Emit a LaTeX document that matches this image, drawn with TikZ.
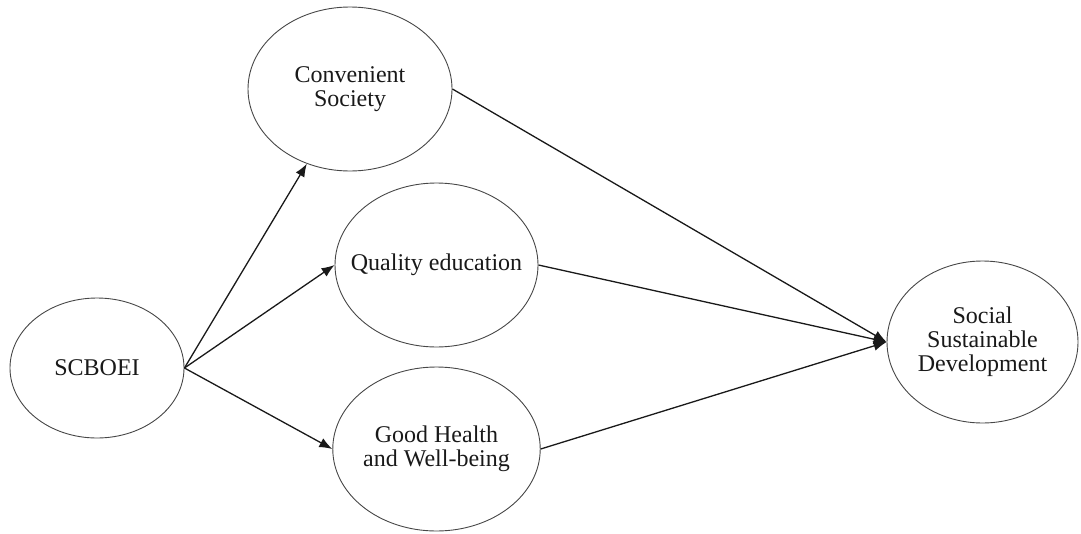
\documentclass[tikz,border=0pt]{standalone}
\usepackage{fontspec}
\setmainfont{Liberation Serif}
\usetikzlibrary{shapes.geometric,arrows.meta}
\tikzset{
  var/.style={ellipse, draw=black!72, line width=0.9pt, inner sep=0pt, align=center,
    text=black!90, font=\fontsize{24}{24}\selectfont},
  link/.style={draw=black!90, line width=1.3pt, -{Latex[length=13pt,width=10pt]}}
}
\begin{document}
\begin{tikzpicture}[x=1pt,y=-1pt]
\useasboundingbox (0,0) rectangle (1081,533);
\node[var, minimum width=174pt, minimum height=140pt] (s) at (97,368) {SCBOEI};
\node[var, minimum width=204pt, minimum height=164pt] (c) at (350,89) {Convenient\\Society};
\node[var, minimum width=203pt, minimum height=164pt, inner xsep=-20pt] (q) at (436.5,265) {Quality education};
\node[var, minimum width=203pt, minimum height=164pt] (g) at (436.5,449) {Good Health\\and Well-being};
\node[var, minimum width=191pt, minimum height=162pt] (d) at (982.5,342) {Social\\Sustainable\\Development};
\draw[link] (s.east) -- (c.240);
\draw[link] (s.east) -- (q.west);
\draw[link] (s.east) -- (g.west);
\draw[link] (c.east) -- (d.west);
\draw[link] (q.east) -- (d.west);
\draw[link] (g.east) -- (d.west);
\end{tikzpicture}
\end{document}
